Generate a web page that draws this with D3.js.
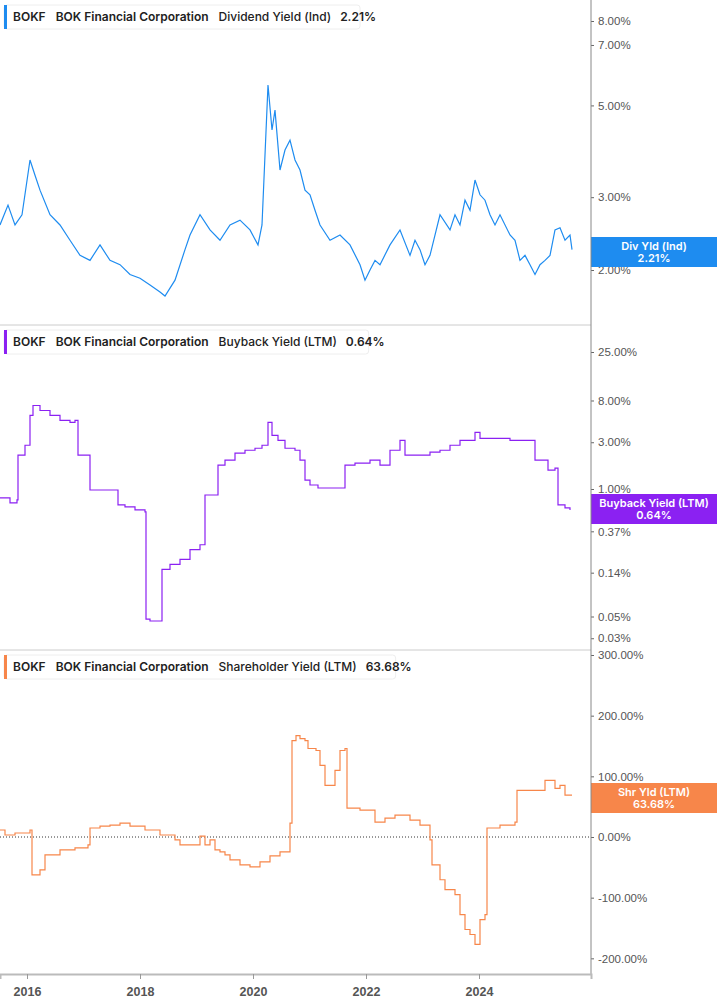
<!DOCTYPE html>
<html><head><meta charset="utf-8">
<script src="https://cdn.jsdelivr.net/npm/d3@7"></script>
<style>body{margin:0;background:#fff;font-family:Inter,"Noto Sans",sans-serif}</style>
</head><body>
<script>
// x pixel readings converted to year; values in %
const toYear = x => 2016 + (x - 27) / 56.5;

const divPts = [[0,225],[8,205],[15,225],[22,215],[30,160],[35,175],[40,190],[50,215],[60,225],[70,240],[80,255],[90,260],[100,245],[110,260],[120,265],[130,275],[140,278],[150,285],[160,292],[165,296],[175,280],[185,250],[190,235],[200,215],[210,230],[220,240],[230,225],[240,220],[250,230],[258,245],[262,225],[268,85],[272,130],[275,110],[280,170],[285,150],[290,140],[295,160],[300,170],[305,190],[310,195],[315,210],[320,225],[330,240],[340,235],[350,245],[360,265],[365,280],[370,270],[375,260],[380,265],[390,245],[400,230],[410,255],[415,240],[420,250],[425,265],[430,255],[440,215],[450,230],[455,215],[460,225],[465,200],[470,210],[475,180],[480,195],[485,200],[490,215],[495,225],[500,215],[510,235],[515,240],[520,260],[525,255],[530,265],[535,275],[540,265],[545,260],[550,255],[555,230],[560,228],[565,240],[570,235],[572,250]];
const divYield = divPts.map(([x,y]) => [toYear(x), +(2*Math.pow(10,(270-y)/414)).toFixed(2)]);

const bbPts = [[0,498],[10,503],[17,500],[18,455],[25,445],[30,415],[33,405],[40,410],[50,415],[60,420],[70,422],[75,420],[78,455],[85,455],[90,490],[100,490],[115,490],[118,505],[125,507],[135,510],[145,512],[146,620],[150,622],[160,622],[162,570],[170,565],[180,560],[190,550],[200,545],[205,495],[215,495],[218,465],[225,460],[235,453],[245,450],[255,448],[262,445],[268,422],[272,435],[278,440],[285,448],[295,450],[300,460],[305,480],[310,485],[318,488],[330,488],[340,488],[345,465],[355,463],[370,460],[380,465],[390,450],[400,440],[405,455],[420,455],[430,452],[440,450],[450,445],[460,440],[470,440],[475,432],[480,438],[490,438],[510,440],[520,440],[530,440],[535,460],[545,460],[548,470],[555,468],[558,505],[565,508],[570,510]];
const buyback = bbPts.map(([x,y]) => [toYear(x), +Math.pow(10,(489-y)/98.6).toFixed(3)]);

const shPts = [[0,830],[5,835],[15,833],[30,830],[32,875],[40,870],[45,855],[60,850],[75,848],[88,845],[90,828],[100,826],[110,825],[120,823],[130,826],[145,830],[160,835],[175,840],[180,845],[190,845],[200,836],[205,845],[210,840],[215,850],[220,852],[225,855],[230,860],[240,865],[250,867],[260,862],[270,856],[280,852],[290,823],[292,740],[296,735],[300,738],[305,740],[308,748],[316,750],[320,765],[325,785],[335,770],[340,750],[345,748],[347,808],[360,810],[375,822],[385,818],[395,815],[410,820],[420,825],[430,840],[432,865],[440,880],[445,890],[455,895],[460,915],[465,930],[470,935],[475,945],[480,920],[485,915],[487,828],[500,825],[515,822],[517,790],[530,790],[540,790],[545,780],[555,788],[560,785],[565,795],[572,795]];
const shYield = shPts.map(([x,y]) => [toYear(x), +((837-y)/0.61).toFixed(1)]);

const divTicks = [2,3,5,7,8];
const bbTicks = [0.03,0.05,0.14,0.37,1,3,8,25];
const shTicks = [-200,-100,0,100,200,300];
const yearTicks = [2016,2018,2020,2022,2024];

const W = 717, H = 1005, plotR = 591;
const svg = d3.select("body").append("svg").attr("width", W).attr("height", H);
const x = d3.scaleLinear().domain([toYear(0), toYear(591)]).range([0, plotR]);

const panels = [
  {data: divYield, ticks: divTicks, y: d3.scaleLog().domain([2,8]).range([270,21]), color:"#1e8cf0", curve:d3.curveLinear,
   top:0, bot:325, title:"Dividend Yield (Ind)", last:"2.21%", tag:"Div Yld (Ind)", tagY:237, fmt:d=>d.toFixed(2)+"%"},
  {data: buyback, ticks: bbTicks, y: d3.scaleLog().domain([1,25]).range([489,352]), color:"#8b21f2", curve:d3.curveStepAfter,
   top:325, bot:650, title:"Buyback Yield (LTM)", last:"0.64%", tag:"Buyback Yield (LTM)", tagY:494, fmt:d=>d.toFixed(2)+"%"},
  {data: shYield, ticks: shTicks, y: d3.scaleLinear().domain([0,300]).range([837,655]), color:"#f7864a", curve:d3.curveStepAfter,
   top:650, bot:974, title:"Shareholder Yield (LTM)", last:"63.68%", tag:"Shr Yld (LTM)", tagY:783, fmt:d=>d.toFixed(2)+"%", zero:true}
];

panels.forEach(p => {
  const g = svg.append("g");
  if (p.zero) g.append("line").attr("x1",0).attr("x2",plotR).attr("y1",p.y(0)).attr("y2",p.y(0))
    .attr("stroke","#333").attr("stroke-dasharray","1,2");
  g.append("path").datum(p.data).attr("fill","none").attr("stroke",p.color).attr("stroke-width",1.2)
    .attr("d", d3.line().x(d=>x(d[0])).y(d=>p.y(d[1])).curve(p.curve));
  // right axis
  const ax = g.append("g").attr("transform",`translate(${plotR},0)`)
    .call(d3.axisRight(p.y).tickValues(p.ticks).tickFormat(p.fmt).tickSize(3).tickPadding(4));
  ax.select(".domain").remove();
  ax.selectAll("text").attr("fill","#555").attr("font-size",11.5);
  ax.selectAll("line").attr("stroke","#666");
  if (p.top > 0) g.append("line").attr("x1",0).attr("x2",plotR).attr("y1",p.top).attr("y2",p.top).attr("stroke","#ccc");
  // legend header
  const hg = g.append("g").attr("transform",`translate(4,${p.top+5})`);
  const t = hg.append("text").attr("x",9).attr("y",16).attr("font-size",12).attr("font-weight",600).attr("fill","#222");
  t.append("tspan").text("BOKF");
  t.append("tspan").attr("dx",10).text("BOK Financial Corporation");
  t.append("tspan").attr("dx",10).attr("font-weight",500).text(p.title);
  t.append("tspan").attr("dx",9).text(p.last);
  const bw = t.node().getComputedTextLength() + 22;
  hg.insert("rect","text").attr("width",bw).attr("height",24).attr("rx",3).attr("fill","#fff").attr("stroke","#eee");
  hg.insert("rect","text").attr("width",3).attr("height",24).attr("fill",p.color);
  // value tag
  const tg = g.append("g").attr("transform",`translate(${plotR},${p.tagY})`);
  tg.append("rect").attr("width",W-plotR).attr("height",30).attr("fill",p.color);
  tg.append("text").attr("x",(W-plotR)/2).attr("y",13).attr("text-anchor","middle").attr("fill","#fff")
    .attr("font-size",11).attr("font-weight",600).text(p.tag);
  tg.append("text").attr("x",(W-plotR)/2).attr("y",25).attr("text-anchor","middle").attr("fill","#fff")
    .attr("font-size",11).attr("font-weight",600).text(p.last);
});

svg.append("line").attr("x1",plotR).attr("x2",plotR).attr("y1",0).attr("y2",974).attr("stroke","#888");
const xa = svg.append("g").attr("transform","translate(0,974)")
  .call(d3.axisBottom(x).tickValues(yearTicks).tickFormat(d3.format("d")).tickSize(5).tickPadding(8));
xa.select(".domain").attr("stroke","#bbb").attr("stroke-width",2);
xa.selectAll("line").attr("stroke","#999");
xa.selectAll("text").attr("fill","#555").attr("font-size",12.5).attr("font-weight",700);
</script>
</body></html>
